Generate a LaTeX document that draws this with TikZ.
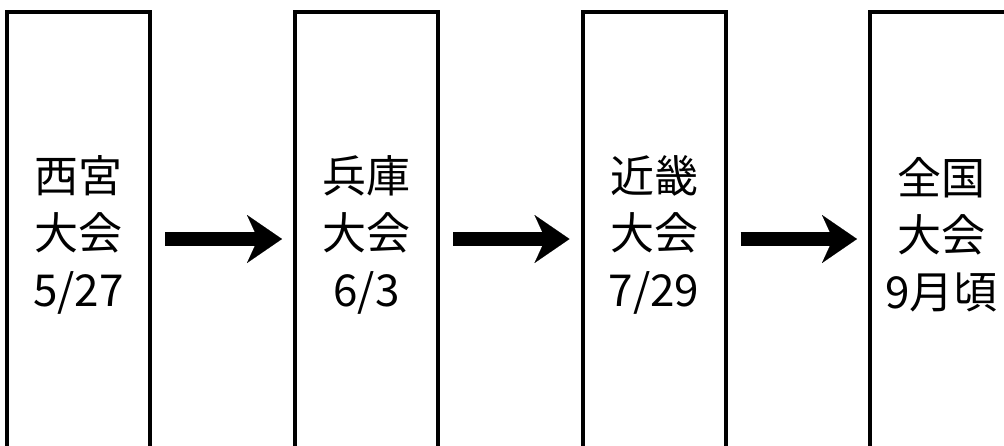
\documentclass[tikz,border=0pt]{standalone}
\usepackage{fontspec}
\newfontfamily\jpfont{Noto Sans CJK JP}
\usepackage{tikz}
\usetikzlibrary{arrows.meta}

\begin{document}
\begin{tikzpicture}[x=1pt,y=-1pt,
  stagebox/.style={draw, line width=4pt, minimum width=143pt, minimum height=447pt,
    inner sep=0pt, align=center, font=\jpfont\fontsize{44}{57}\selectfont},
  bigarrow/.style={line width=14pt,
    -{Stealth[length=35pt,width=48pt,inset=11pt,line width=0.1pt]},
    shorten <=13pt, shorten >=11pt}]

\useasboundingbox (0,0) rectangle (1004,445);
\clip (0,0) rectangle (1004,445);

\draw (78.5,235) node[stagebox] (nishinomiya) {西宮\\大会\\5/27};
\draw (366.5,235) node[stagebox] (hyogo) {兵庫\\大会\\6/3};
\draw (654,235) node[stagebox] (kinki) {近畿\\大会\\7/29};
\draw (941.5,235) node[stagebox] (zenkoku) {全国\\大会\\9月頃};

\draw[bigarrow] ([yshift=-4pt]nishinomiya.east) -- ([yshift=-4pt]hyogo.west);
\draw[bigarrow] ([yshift=-4pt]hyogo.east) -- ([yshift=-4pt]kinki.west);
\draw[bigarrow] ([yshift=-4pt]kinki.east) -- ([yshift=-4pt]zenkoku.west);
\end{tikzpicture}
\end{document}
